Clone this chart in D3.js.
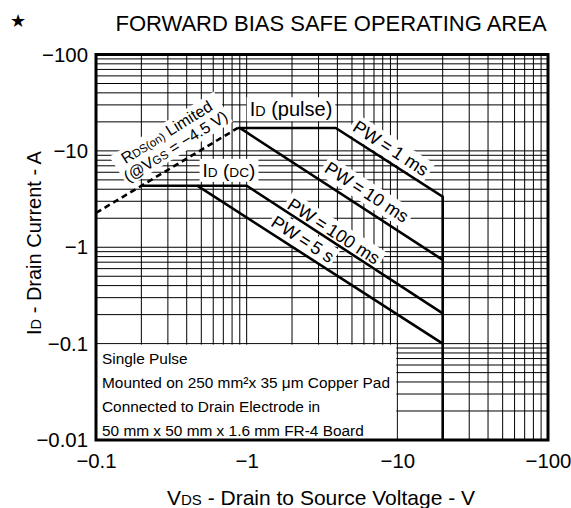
<!DOCTYPE html>
<html><head><meta charset="utf-8">
<script src="https://cdn.jsdelivr.net/npm/d3@7"></script>
<style>
body{margin:0;background:#fff}
text{font-family:"Liberation Sans",Arial,Helvetica,sans-serif;fill:#000}
</style>
</head><body>
<svg id="chart" width="571" height="508"></svg>
<script>
// ---------- data ----------
const xTickValues = [-0.1, -1, -10, -100];
const xTickLabels = ["\u22120.1", "\u22121", "\u221210", "\u2212100"];
const yTickValues = [-0.01, -0.1, -1, -10, -100];
const yTickLabels = ["\u22120.01", "\u22120.1", "\u22121", "\u221210", "\u2212100"];

// boundaries: [VDS (V), ID (A)]
const rdsOnLimit = [[-0.1, -2.27], [-0.875, -17.3]];
const pulseLimit = [[-0.875, -17.3], [-3.9, -17.3], [-20, -3.35], [-20, -0.01]];
const pw10ms     = [[-0.9, -17.3], [-20, -0.74]];
const dcLimit    = [[-0.2, -4.35], [-1.0, -4.35], [-20, -0.206]];
const pw5s       = [[-0.47, -4.35], [-20, -0.1]];

const noteLines = ["Single Pulse",
  "Mounted on 250 mm\u00B2x 35 \u03BCm Copper Pad",
  "Connected to Drain Electrode in",
  "50 mm x 50 mm x 1.6 mm FR-4 Board"];

// ---------- layout ----------
const svg = d3.select("#chart");
const L = 96, R = 548, T = 54.5, B = 440;
const x = d3.scaleLog().domain([-0.1, -100]).range([L, R]);
const y = d3.scaleLog().domain([-0.01, -100]).range([B, T]);

// title
svg.append("text").attr("x", 18).attr("y", 27).attr("text-anchor", "middle")
  .style("font-size", "18px").text("\u2605");
svg.append("text").attr("x", 331).attr("y", 31).attr("text-anchor", "middle")
  .style("font-size", "22px").text("FORWARD BIAS SAFE OPERATING AREA");

// grid
const grid = svg.append("g");
const xg = x.ticks().filter(v => v <= -0.1 && v >= -100);
const yg = y.ticks().filter(v => v <= -0.01 && v >= -100);
grid.selectAll("line.v").data(xg).join("line")
  .attr("x1", d => x(d)).attr("x2", d => x(d)).attr("y1", T).attr("y2", B)
  .attr("stroke", "#000").attr("stroke-width", 1);
grid.selectAll("line.h").data(yg).join("line")
  .attr("y1", d => y(d)).attr("y2", d => y(d)).attr("x1", L).attr("x2", R)
  .attr("stroke", "#000").attr("stroke-width", 1);

// note box (white area)
svg.append("rect").attr("x", x(-0.1)).attr("y", y(-0.1) + 1)
  .attr("width", x(-10) - x(-0.1) - 1).attr("height", y(-0.01) - y(-0.1) - 1)
  .attr("fill", "#fff");
svg.append("g").selectAll("text").data(noteLines).join("text")
  .attr("x", L + 6).attr("y", (d, i) => 364 + i * 24)
  .attr("textLength", (d, i) => i === 1 ? 288 : null)
  .attr("lengthAdjust", "spacing")
  .style("font-size", "15.4px").text(d => d);

const bgLayer = svg.append("g");
const curveLayer = svg.append("g");
const textLayer = svg.append("g");

const line = d3.line().x(d => x(d[0])).y(d => y(d[1]));
curveLayer.append("path").datum(rdsOnLimit).attr("d", line).attr("fill", "none")
  .attr("stroke", "#000").attr("stroke-width", 2.6).attr("stroke-dasharray", "6,4");
[pulseLimit, pw10ms, dcLimit, pw5s].forEach(s => {
  curveLayer.append("path").datum(s).attr("d", line).attr("fill", "none")
    .attr("stroke", "#000").attr("stroke-width", 2.6).attr("stroke-linejoin", "miter");
});

// annotation helper: lines = array of arrays of [text, small?]
function label(cx, cy, angle, lines, fs, pad) {
  const tr = `translate(${cx},${cy}) rotate(${angle})`;
  const g = textLayer.append("g").attr("transform", tr);
  const n = lines.length;
  lines.forEach((parts, i) => {
    const t = g.append("text").attr("text-anchor", "middle")
      .attr("y", (i - (n - 1) / 2) * fs * 1.05 + fs * 0.36)
      .style("font-size", fs + "px");
    parts.forEach(p => {
      t.append("tspan").style("font-size", (p[1] ? fs * 0.72 : fs) + "px").text(p[0]);
    });
  });
  const bb = g.node().getBBox();
  bgLayer.append("rect").attr("transform", tr)
    .attr("x", bb.x - pad).attr("y", bb.y - 1).attr("width", bb.width + 2 * pad)
    .attr("height", bb.height + 2).attr("fill", "#fff");
}

const sp = "\u2009";
label(291, 109, 0, [[["I"], ["D", true], [" (pulse)"]]], 20, 3);
label(229, 170, 0, [[["I"], ["D", true], [" ("], ["DC", true], [")"]]], 19, 3);
label(171, 139, -32, [[["R"], ["DS(on)", true], [" Limited"]],
                      [["(@V"], ["GS", true], [" = \u22124.5 V)"]]], 16, 2);
label(391, 148, 33, [[["PW" + sp + "=" + sp + "1 ms"]]], 18, 3);
label(367, 192, 33, [[["PW" + sp + "=" + sp + "10 ms"]]], 18, 3);
label(334, 231, 33, [[["PW" + sp + "=" + sp + "100 ms"]]], 18, 3);
label(303, 239, 33, [[["PW" + sp + "=" + sp + "5 s"]]], 18, 2);

// frame
svg.append("rect").attr("x", L).attr("y", T).attr("width", R - L).attr("height", B - T)
  .attr("fill", "none").attr("stroke", "#000").attr("stroke-width", 3);

// axes
const xAxis = d3.axisBottom(x).tickValues(xTickValues)
  .tickFormat((d, i) => xTickLabels[i]).tickSize(0).tickPadding(14);
const gx = svg.append("g").attr("transform", `translate(0,${B})`).call(xAxis);
gx.select(".domain").remove();
gx.selectAll("text").style("font-size", "20.4px").style("font-family", "Liberation Sans, Arial, sans-serif");

const yAxis = d3.axisLeft(y).tickValues(yTickValues)
  .tickFormat((d, i) => yTickLabels[i]).tickSize(0).tickPadding(8);
const gy = svg.append("g").attr("transform", `translate(${L},0)`).call(yAxis);
gy.select(".domain").remove();
gy.selectAll("text").style("font-size", "20.4px").style("font-family", "Liberation Sans, Arial, sans-serif");

// axis titles
const xt = svg.append("text").attr("x", 321).attr("y", 505).attr("text-anchor", "middle")
  .style("font-size", "21px");
xt.append("tspan").text("V");
xt.append("tspan").style("font-size", "15px").text("DS");
xt.append("tspan").text(" - Drain to Source Voltage - V");

const yt = svg.append("text").attr("transform", "translate(41,243) rotate(-90)")
  .attr("text-anchor", "middle").style("font-size", "20px");
yt.append("tspan").text("I");
yt.append("tspan").style("font-size", "14.5px").text("D");
yt.append("tspan").text(" - Drain Current - A");
</script>
</body></html>
